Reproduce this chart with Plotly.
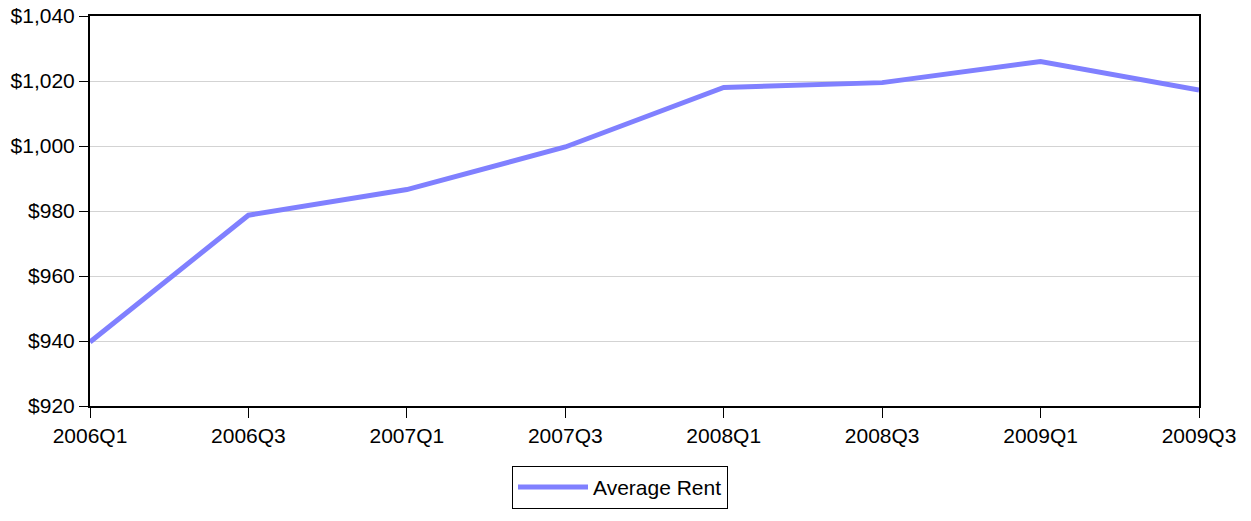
import plotly.graph_objects as go

quarters = ["2006Q1", "2006Q3", "2007Q1", "2007Q3", "2008Q1", "2008Q3", "2009Q1", "2009Q3"]
average_rent = [939.7, 978.7, 986.6, 999.7, 1018.0, 1019.5, 1026.0, 1017.2]
y_ticks = [920, 940, 960, 980, 1000, 1020, 1040]

fig = go.Figure()
fig.add_trace(go.Scatter(
    x=quarters, y=average_rent, mode="lines", name="Average Rent",
    line=dict(color="#8080FF", width=5),
))

font = dict(family="Liberation Sans, Arial, sans-serif", size=21, color="black")

fig.update_layout(
    width=1251, height=521,
    margin=dict(l=90, r=52, t=16, b=107),
    paper_bgcolor="white", plot_bgcolor="white",
    font=font,
    showlegend=True,
    legend=dict(
        x=(512 - 90) / 1109, xanchor="left",
        y=(414 - 475) / 398, yanchor="top",
        bordercolor="black", borderwidth=1,
        font=dict(family="Liberation Sans, Arial, sans-serif", size=21, color="black"),
        itemwidth=70,
        entrywidth=223,
        tracegroupgap=0,
    ),
    xaxis=dict(
        type="category", range=[0, len(quarters) - 1],
        showline=True, linecolor="black", linewidth=2, mirror=True,
        ticks="outside", ticklen=10, tickcolor="black", tickwidth=1,
        showgrid=False, zeroline=False, automargin=False,
        ticklabeloverflow="allow",
    ),
    yaxis=dict(
        range=[920, 1040], tickvals=y_ticks, tickformat="$,.0f",
        showline=True, linecolor="black", linewidth=2, mirror=True,
        ticks="outside", ticklen=9, tickcolor="black", tickwidth=1,
        showgrid=True, gridcolor="#D3D3D3", gridwidth=1, zeroline=False,
        automargin=False, ticklabeloverflow="allow",
    ),
)

# remove the browser's default body margin and any scrolling so the figure fills the window exactly
post = (
    "document.documentElement.style.margin='0';"
    "document.documentElement.style.padding='0';"
    "document.documentElement.style.overflow='hidden';"
    "document.body.style.margin='0';"
    "document.body.style.padding='0';"
    "document.body.style.overflow='hidden';"
    "document.body.style.height='521px';"
)
fig.write_html("out.html", post_script=post, config={"displayModeBar": False})
